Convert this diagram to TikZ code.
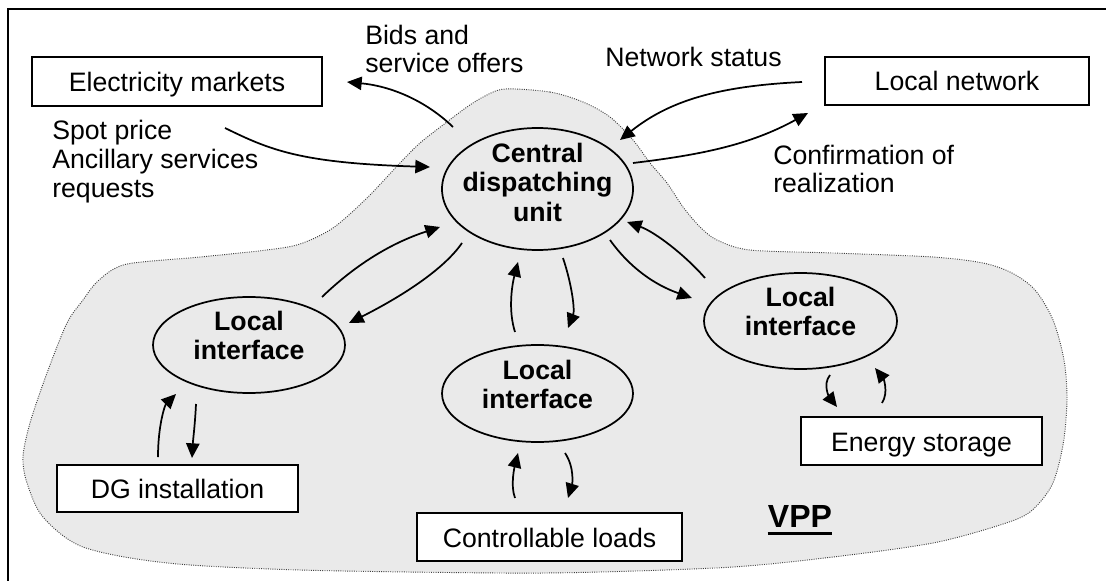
\documentclass[tikz,border=0pt]{standalone}
\usepackage{fontspec}
\setmainfont{Liberation Sans}
\usetikzlibrary{arrows.meta,shapes.geometric}
\definecolor{vppgray}{HTML}{EAEAEA}
\begin{document}
\begin{tikzpicture}[x=0.75pt,y=-0.75pt,
  every node/.style={font=\fontsize{20}{21.6}\selectfont},
  box/.style={draw, fill=white, line width=1.3pt, inner sep=0pt, text height=15pt, text depth=0pt},
  oval/.style={ellipse, draw, line width=1.3pt, inner sep=0pt},
  ovaltext/.style={align=center, inner sep=0pt, font=\bfseries\fontsize{20}{22}\selectfont},
  lbl/.style={align=left, anchor=base west, inner sep=0pt},
  arr/.style={-{Triangle[length=11pt,width=10pt]}, line width=1.3pt},
  frame/.style={line width=1.5pt},
  cloud/.style={fill=vppgray, draw=black!75, densely dotted, line width=0.7pt}]
\useasboundingbox (0,0) rectangle (1106,581);
\fill[white] (0,0) rectangle (1106,581);
\draw[frame] (8,581) -- (8,9) -- (1106,9);
% VPP region
\draw[cloud] plot[smooth cycle, tension=0.5] coordinates {
 (505,89) (550,92) (583,102) (610,117) (633,140) (650,163) (667,183) (683,207)
 (700,227) (717,240) (750,250) (833,253) (933,257) (983,263) (1012,273) (1035,290)
 (1053,320) (1064,360) (1067,400) (1063,445) (1052,485) (1030,512) (1000,525)
 (933,543) (833,557) (733,567) (600,572) (500,573) (300,570) (167,563) (83,547)
 (43,517) (27,483) (23,457) (30,423) (47,373) (67,323) (83,300) (95,284) (112,270)
 (133,263) (200,257) (267,250) (300,244) (333,228) (367,198) (400,163) (420,143)
 (443,125) (467,107) (485,96)};
% boxes
\node[box, minimum width=217.5pt, minimum height=36.75pt] (em) at (177,81.5) {Electricity markets};
\node[box, minimum width=198pt, minimum height=36pt] (ln) at (957,81) {Local network};
\node[box, minimum width=180.75pt, minimum height=35.25pt] (dg) at (177.5,488.5) {DG installation};
\node[box, minimum width=198.75pt, minimum height=36pt] (cl) at (549.5,537) {Controllable loads};
\node[box, minimum width=180.75pt, minimum height=36pt] (es) at (921.5,441) {Energy storage};
% ellipses
\node[oval, minimum width=143.25pt, minimum height=91.5pt,
  label={[ovaltext, yshift=5pt]center:{Central\\dispatching\\unit}}] (cdu) at (537.5,189) {};
\node[oval, minimum width=144pt, minimum height=72pt,
  label={[ovaltext, yshift=7pt]center:{Local\\interface}}] (li1) at (249,345) {};
\node[oval, minimum width=143.25pt, minimum height=72.75pt,
  label={[ovaltext, yshift=7pt]center:{Local\\interface}}] (li2) at (537.5,393.5) {};
\node[oval, minimum width=144.75pt, minimum height=72pt,
  label={[ovaltext, yshift=7pt]center:{Local\\interface}}] (li3) at (800.5,321) {};
% labels
\node[lbl] (tbids) at (365,73) {Bids and\\service offers};
\node[lbl] (tspot) at (52,197) {Spot price\\Ancillary services\\requests};
\node[lbl] (tnet) at (605,67) {Network status};
\node[lbl] (tconf) at (773,193) {Confirmation of\\realization};
\node[anchor=base, inner sep=0pt, font=\bfseries\fontsize{24}{26}\selectfont] (vpp) at (800,527) {VPP};
\draw[line width=2.3pt] ([yshift=-4.6pt]vpp.base west) -- ([yshift=-4.6pt]vpp.base east);
% arrow end points
\coordinate (a1s) at (453,127); \coordinate (a1e) at (347,82);
\coordinate (a2s) at (225,128); \coordinate (a2e) at (430,167);
\coordinate (a3s) at (802,82);  \coordinate (a3e) at (620,140);
\coordinate (a4s) at (633,163); \coordinate (a4e) at (808,113);
\coordinate (a5s) at (322,297); \coordinate (a5e) at (440,227);
\coordinate (a6s) at (462,243); \coordinate (a6e) at (349,323);
\coordinate (a7s) at (515,332); \coordinate (a7e) at (518,262);
\coordinate (a8s) at (563,258); \coordinate (a8e) at (568,328);
\coordinate (a9s) at (610,240); \coordinate (a9e) at (692,298);
\coordinate (a10s) at (705,278); \coordinate (a10e) at (627,222);
\coordinate (a11s) at (158,457); \coordinate (a11e) at (176,394);
\coordinate (a12s) at (196,404); \coordinate (a12e) at (192,458);
\coordinate (a13s) at (515,498); \coordinate (a13e) at (518,453);
\coordinate (a14s) at (565,453); \coordinate (a14e) at (568,498);
\coordinate (a15s) at (830,375); \coordinate (a15e) at (837,407);
\coordinate (a16s) at (882,403); \coordinate (a16e) at (875,368);
% arrows
\draw[arr] (a1s) .. controls (425,100) and (390,86) .. (a1e);
\draw[arr] (a2s) .. controls (270,150) and (300,163) .. (a2e);
\draw[arr] (a3s) .. controls (720,86) and (670,100) .. (a3e);
\draw[arr] (a4s) .. controls (700,155) and (750,145) .. (a4e);
\draw[arr] (a5s) .. controls (350,270) and (385,245) .. (a5e);
\draw[arr] (a6s) .. controls (440,275) and (385,305) .. (a6e);
\draw[arr] (a7s) .. controls (508,310) and (512,285) .. (a7e);
\draw[arr] (a8s) .. controls (572,285) and (575,310) .. (a8e);
\draw[arr] (a9s) .. controls (630,268) and (655,285) .. (a9e);
\draw[arr] (a10s) .. controls (685,255) and (655,232) .. (a10e);
\draw[arr] (a11s) .. controls (158,425) and (165,405) .. (a11e);
\draw[arr] (a12s) .. controls (195,425) and (193,440) .. (a12e);
\draw[arr] (a13s) .. controls (510,485) and (515,465) .. (a13e);
\draw[arr] (a14s) .. controls (575,468) and (572,485) .. (a14e);
\draw[arr] (a15s) .. controls (822,385) and (830,398) .. (a15e);
\draw[arr] (a16s) .. controls (889,392) and (883,378) .. (a16e);
\end{tikzpicture}
\end{document}
